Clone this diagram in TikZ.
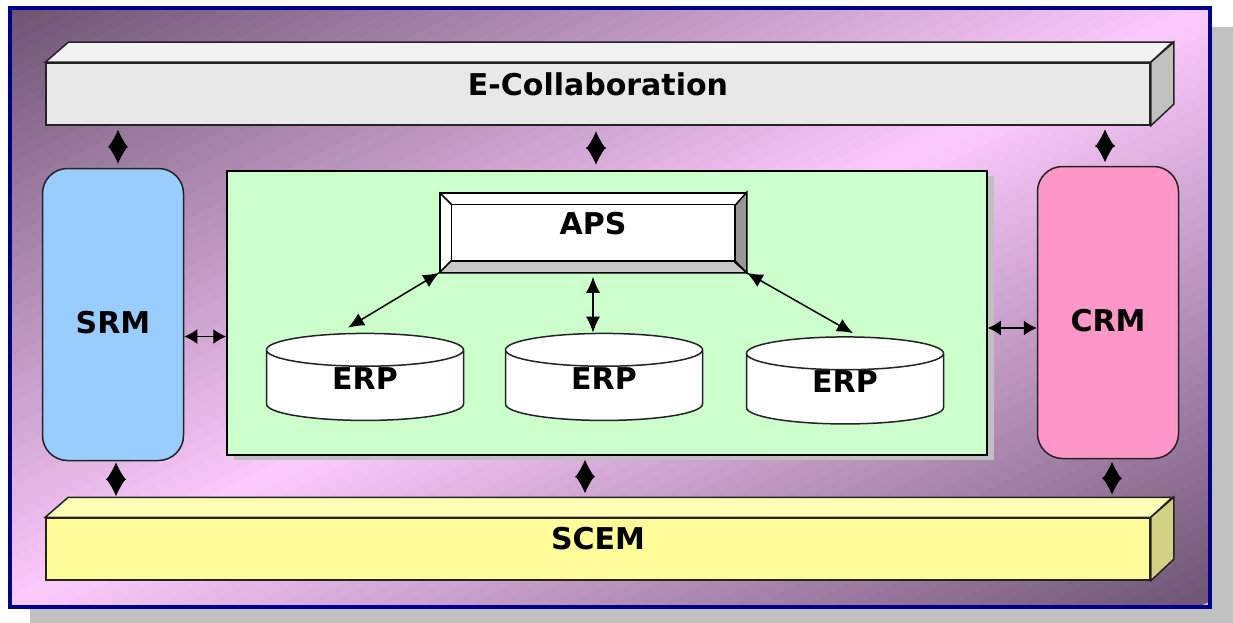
\documentclass[tikz,border=0pt]{standalone}
\usepackage{fontspec}
\setmainfont{DejaVu Sans}
\usepackage{xcolor}
\usetikzlibrary{arrows.meta, shapes.geometric, shadows}

\definecolor{framenavy}{RGB}{0,0,140}
\definecolor{bgdark}{RGB}{108,84,114}
\definecolor{bglight}{RGB}{252,202,252}
\definecolor{shadegray}{RGB}{192,192,192}
\definecolor{edgedark}{RGB}{35,35,35}
\definecolor{collabfront}{RGB}{232,232,232}
\definecolor{collabtop}{RGB}{242,242,242}
\definecolor{collabside}{RGB}{192,192,192}
\definecolor{scemfront}{RGB}{255,252,153}
\definecolor{scemtop}{RGB}{255,255,182}
\definecolor{scemside}{RGB}{210,208,130}
\definecolor{srmblue}{RGB}{153,204,255}
\definecolor{crmpink}{RGB}{255,150,200}
\definecolor{coregreen}{RGB}{204,255,204}
\definecolor{bevellow}{RGB}{200,200,200}
\definecolor{bevelside}{RGB}{152,152,152}

\begin{document}
\begin{tikzpicture}[x=1pt, y=-1pt,
    font=\fontsize{30}{36}\selectfont\bfseries,
    face/.style={draw=edgedark, line width=1.5pt},
    barface/.style={face, minimum width=1104pt, minimum height=62pt, inner sep=0pt},
    sidebox/.style={face, rounded corners=25pt, minimum width=141pt, minimum height=292pt, inner sep=0pt},
    erpbox/.style={cylinder, shape border rotate=90, draw=edgedark, line width=1.5pt, aspect=0.5,
        minimum width=197pt, minimum height=87pt, inner sep=0pt, text depth=14pt,
        cylinder uses custom fill, cylinder body fill=white, cylinder end fill=white},
    dmd/.style={{Latex[length=17.5pt,width=20pt]}-{Latex[length=17.5pt,width=20pt]}, line width=1pt},
    hlink/.style={{Latex[length=13pt,width=15pt]}-{Latex[length=13pt,width=15pt]}, line width=1.5pt},
    link/.style={{Latex[length=16pt,width=14pt]}-{Latex[length=16pt,width=14pt]}, line width=1.5pt}]
    \useasboundingbox (0,0) rectangle (1233,623);
    % Frame
    \fill[shadegray] (30,27) rectangle (1233,623);
    \begin{scope}
        \clip (10,8) rectangle (1210,607);
        \foreach \s in {0,0.02,...,1.98} {
            \pgfmathsetmacro\mixval{100*(1-abs(\s+0.01-1))}
            \fill[bglight!\mixval!bgdark] ({10+\s*1200},8) -- ({10+(\s+0.03)*1200},8)
                -- (10,{8+(\s+0.03)*599}) -- (10,{8+\s*599}) -- cycle;
        }
    \end{scope}
    \draw[framenavy, line width=4pt] (10,8) rectangle (1210,607);
    % Bars
    \node[barface, fill=collabfront, label={[yshift=10pt]center:E-Collaboration}] (ecollab) at (598,94) {};
    \filldraw[face, fill=collabtop] (ecollab.north west) -- ++(23,-20) -- ++(1104,0) -- (ecollab.north east) -- cycle;
    \filldraw[face, fill=collabside] (ecollab.north east) -- ++(23,-20) -- ++(0,62) -- (ecollab.south east) -- cycle;
    \node[barface, fill=scemfront, label={[yshift=10pt]center:SCEM}] (scem) at (598,549) {};
    \filldraw[face, fill=scemtop] (scem.north west) -- ++(23,-20) -- ++(1104,0) -- (scem.north east) -- cycle;
    \filldraw[face, fill=scemside] (scem.north east) -- ++(23,-20) -- ++(0,62) -- (scem.south east) -- cycle;
    \coordinate (scemback) at ([yshift=20pt]scem.north);
    % Side boxes
    \node[sidebox, fill=srmblue, label={[yshift=-8pt]center:SRM}] (srm) at (113,314.5) {};
    \node[sidebox, fill=crmpink, label={[yshift=-8pt]center:CRM}] (crm) at (1108,312.5) {};
    % Core
    \node[face, draw=black, fill=coregreen, minimum width=760pt, minimum height=284pt,
        drop shadow={shadow xshift=7pt, shadow yshift=-5pt, fill=shadegray, opacity=1}] (core) at (607,313) {};
    \node[face, draw=black, fill=white, minimum width=306pt, minimum height=79pt,
        label={[yshift=9pt]center:APS}] (aps) at (593,232.5) {};
    \filldraw[face, draw=black, fill=bevellow] (aps.south west) -- ++(12,-12) -- ++(282,0) -- (aps.south east) -- cycle;
    \filldraw[face, draw=black, fill=bevelside] (aps.south east) -- ++(-12,-12) -- ++(0,-55) -- (aps.north east) -- cycle;
    \draw[face, draw=black] ([shift={(12,12)}]aps.north west) rectangle ([shift={(-12,-12)}]aps.south east);
    \draw[face, draw=black] (aps.north west) -- ++(12,12);
    \node[erpbox] (erpA) at (365,385.5) {ERP};
    \node[erpbox] (erpB) at (604,385.5) {ERP};
    \node[erpbox] (erpC) at (845,389) {ERP};
    % Links
    \draw[link] (aps.south west) -- ([xshift=-17pt,yshift=5pt]erpA.north);
    \draw[link] ([yshift=-4pt]aps.south) -- (aps.south |- erpB.north);
    \draw[link] (aps.south east) -- ([xshift=8pt,yshift=3pt]erpC.north);
    \draw[hlink] ([yshift=-22pt]srm.east) -- ([yshift=-22pt]srm.east -| core.west);
    \draw[hlink] ([yshift=-15pt]core.east) -- ([yshift=-15pt]core.east -| crm.west);
    \draw[dmd, shorten <=4pt, shorten >=4pt] ([xshift=5pt]srm.north |- ecollab.south) -- ([xshift=5pt]srm.north);
    \draw[dmd, shorten <=5.5pt, shorten >=5.5pt] ([xshift=-11pt]core.north |- ecollab.south) -- ([xshift=-11pt]core.north);
    \draw[dmd, shorten <=3.5pt, shorten >=3.5pt] ([xshift=-3pt]crm.north |- ecollab.south) -- ([xshift=-3pt]crm.north);
    \draw[dmd, shorten <=1pt, shorten >=1pt] ([xshift=3pt]srm.south) -- ([xshift=3pt]srm.south |- scemback);
    \draw[dmd, shorten <=4pt, shorten >=4pt] ([xshift=-22pt]core.south) -- ([xshift=-22pt]core.south |- scemback);
    \draw[dmd, shorten <=2.5pt, shorten >=2.5pt] ([xshift=4pt]crm.south) -- ([xshift=4pt]crm.south |- scemback);
\end{tikzpicture}
\end{document}
